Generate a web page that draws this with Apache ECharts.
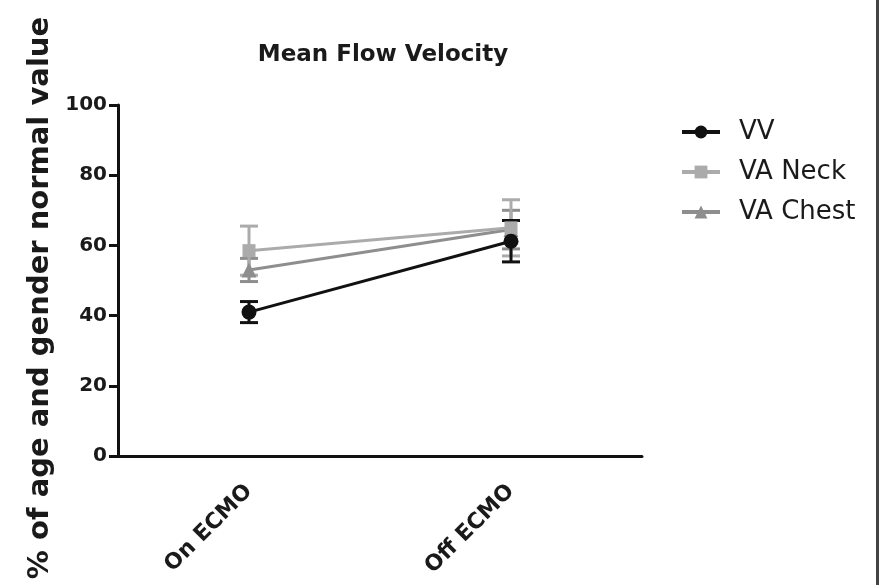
<!DOCTYPE html>
<html>
<head>
<meta charset="utf-8">
<script src="https://cdn.jsdelivr.net/npm/echarts@6/dist/echarts.min.js"></script>
<style>
  html, body { margin: 0; padding: 0; background: #fff; }
  #chart { width: 884px; height: 585px; }
</style>
</head>
<body>
<div id="chart"></div>
<script>
var categories = ['On ECMO', 'Off ECMO']
var seriesNames = ['VV', 'VA Neck', 'VA Chest']
var vvMean = [41, 61.2]
var vvErr = [3, 5.9]
var neckMean = [58.5, 65]
var neckErr = [7, 8]
var chestMean = [53, 64.5]
var chestErr = [3.3, 5.5]
var yTicks = [0, 20, 40, 60, 80, 100]

var colors = ['#111111', '#ababab', '#8e8e8e']
var symbols = ['circle', 'rect', 'triangle']
var means = [vvMean, neckMean, chestMean]
var errs = [vvErr, neckErr, chestErr]
var font = 'DejaVu Sans, Liberation Sans, Arial, sans-serif'

var chart = echarts.init(document.getElementById('chart'))

function errorSeries(idx) {
  var data = means[idx].map(function (m, i) {
    return [i, m - errs[idx][i], m + errs[idx][i]]
  })
  return {
    type: 'custom',
    name: seriesNames[idx] + ' SEM',
    z: 3 - idx,
    data: data,
    itemStyle: { color: colors[idx] },
    renderItem: function (params, api) {
      var x = api.value(0)
      var lo = api.coord([x, api.value(1)])
      var hi = api.coord([x, api.value(2)])
      var w = 9
      var style = { stroke: colors[idx], lineWidth: 3 }
      return {
        type: 'group',
        children: [
          { type: 'line', shape: { x1: lo[0], y1: lo[1], x2: hi[0], y2: hi[1] }, style: style },
          { type: 'line', shape: { x1: lo[0] - w, y1: lo[1], x2: lo[0] + w, y2: lo[1] }, style: style },
          { type: 'line', shape: { x1: hi[0] - w, y1: hi[1], x2: hi[0] + w, y2: hi[1] }, style: style }
        ]
      }
    }
  }
}

function lineSeries(idx) {
  return {
    type: 'line',
    name: seriesNames[idx],
    data: means[idx],
    z: 10 - idx,
    symbol: symbols[idx],
    symbolSize: idx === 1 ? 13 : 15,
    itemStyle: { color: colors[idx] },
    lineStyle: { color: colors[idx], width: 3 }
  }
}

var series = []
for (var i = 2; i >= 0; i--) {
  series.push(errorSeries(i))
}
for (var j = 0; j < 3; j++) {
  series.push(lineSeries(j))
}

chart.setOption({
  animation: false,
  textStyle: { fontFamily: font },
  title: {
    text: 'Mean Flow Velocity',
    left: 378,
    top: 39,
    textAlign: 'center',
    textStyle: { fontSize: 23, fontWeight: 'bold', color: '#1a1a1a', fontFamily: font }
  },
  legend: {
    data: seriesNames,
    orient: 'vertical',
    left: 675,
    top: 114,
    itemGap: 14,
    itemWidth: 38,
    itemHeight: 16,
    lineStyle: { width: 4 },
    textStyle: { fontSize: 26, lineHeight: 26, color: '#1a1a1a', fontFamily: font, padding: [0, 0, 0, 14] }
  },
  grid: { left: 118, right: 242, top: 105, bottom: 129 },
  xAxis: {
    type: 'category',
    data: categories,
    boundaryGap: true,
    axisLine: { lineStyle: { color: '#111', width: 3 } },
    axisTick: { alignWithLabel: true, length: 8, lineStyle: { color: '#111', width: 3 } },
    axisLabel: {
      rotate: 45,
      fontSize: 22,
      fontWeight: 'bold',
      color: '#1a1a1a',
      fontFamily: font,
      margin: 32
    }
  },
  yAxis: {
    type: 'value',
    min: yTicks[0],
    max: yTicks[yTicks.length - 1],
    interval: 20,
    splitLine: { show: false },
    axisLine: { show: true, lineStyle: { color: '#111', width: 3 } },
    axisTick: { show: true, length: 9, lineStyle: { color: '#111', width: 3 } },
    axisLabel: { fontSize: 20, fontWeight: 'bold', color: '#1a1a1a', fontFamily: font, margin: 11 }
  },
  graphic: [
    {
      type: 'text',
      x: 40,
      y: 298,
      rotation: Math.PI / 2,
      style: {
        text: '% of age and gender normal value',
        fontSize: 29,
        fontWeight: 'bold',
        fontFamily: font,
        fill: '#1a1a1a',
        align: 'center',
        verticalAlign: 'middle'
      }
    },
    { type: 'rect', shape: { x: 876, y: 0, width: 3, height: 585 }, style: { fill: '#444' } }
  ],
  series: series
})
</script>
</body>
</html>
